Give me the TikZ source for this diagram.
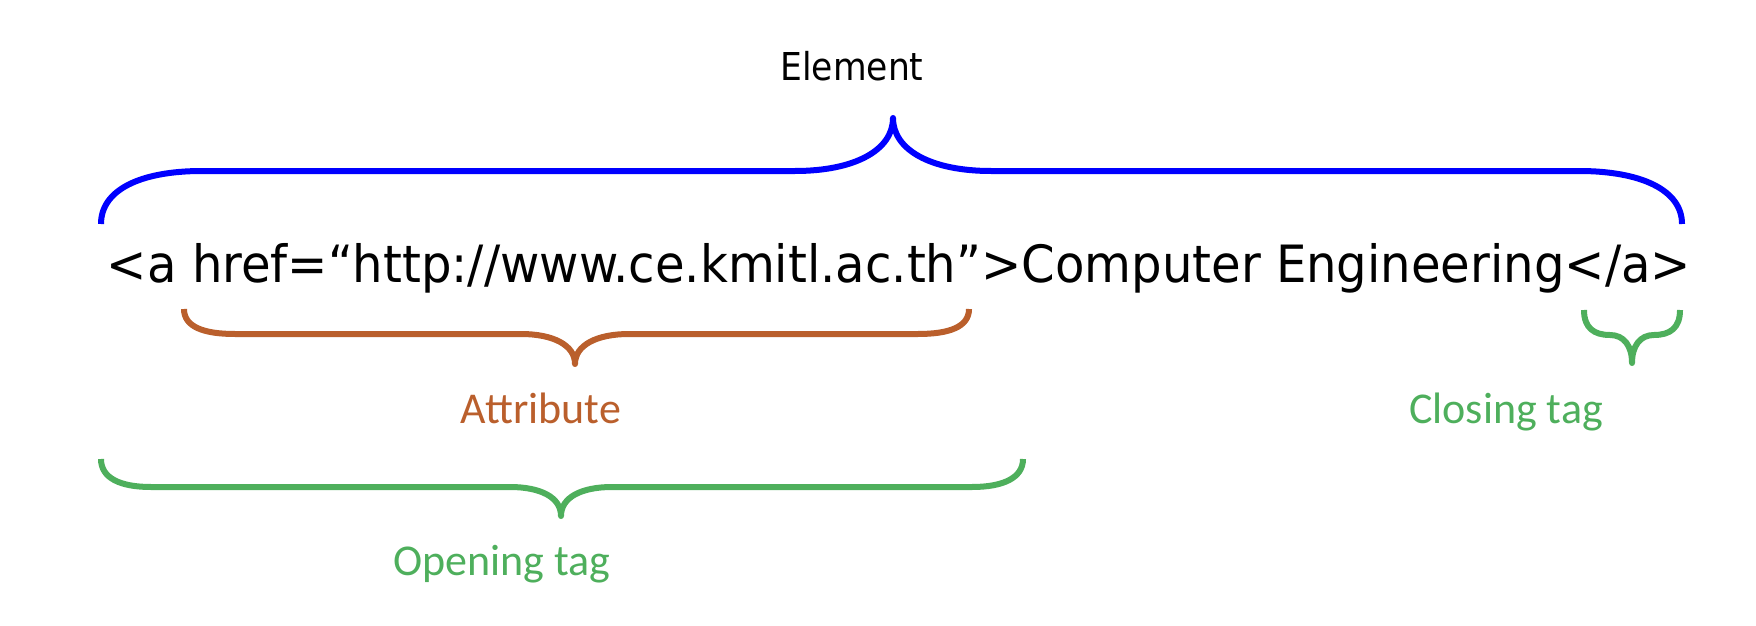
\documentclass[tikz,border=0pt]{standalone}
\usepackage{fontspec}
\setmainfont{Carlito}
\newfontfamily\codefont{DejaVu Sans Condensed}
\definecolor{elemblue}{HTML}{0000FF}
\definecolor{attrbrown}{HTML}{BA5F2C}
\definecolor{taggreen}{HTML}{4EAF5C}
\newsavebox\mainbox
\newlength\mainwd
\AtBeginDocument{%
  \sbox\mainbox{\codefont\fontsize{25.7pt}{30pt}\selectfont <a href=“http://www.ce.kmitl.ac.th”>Computer Engineering</a>}%
  \setlength\mainwd{\wd\mainbox}%
}
\tikzset{
  bracestroke/.style={line width=3pt, line cap=butt, line join=round},
  labeltext/.style={anchor=base, inner sep=0pt, font=\fontsize{22pt}{26pt}\selectfont},
}
\begin{document}
\begin{tikzpicture}[x=0.5pt, y=-0.5pt]
\useasboundingbox (0,0) rectangle (1756,626);
\pgfmathsetmacro\codescale{792/\the\mainwd}
% main code line
\node[anchor=base, inner sep=0pt] (code) at (899,282) {\scalebox{\codescale}[1]{\usebox\mainbox}};
% labels
\node[anchor=base, inner sep=0pt] (element) at (852,81) {\codefont\fontsize{19.2pt}{23pt}\selectfont Element};
\node[labeltext, text=attrbrown] (attr) at (541,423) {Attribute};
\node[labeltext, text=taggreen] (closing) at (1506,423) {Closing tag};
\node[labeltext, text=taggreen] (opening) at (502,575) {Opening tag};
% element brace
\coordinate (etip) at (893,118);
\draw[bracestroke, elemblue] (101,224) .. controls (101,190) and (140,171) .. (202,171) -- (795,171)
  .. controls (855,171) and (893,150) .. (etip)
  .. controls (893,150) and (931,171) .. (991,171) -- (1579,171)
  .. controls (1641,171) and (1682,190) .. (1682,224);
% attribute brace
\coordinate (atip) at (575,364);
\draw[bracestroke, attrbrown] (184,309) .. controls (184,327) and (204,334) .. (235,334) -- (521,334)
  .. controls (553,334) and (575,345) .. (atip)
  .. controls (575,345) and (597,334) .. (629,334) -- (918,334)
  .. controls (949,334) and (969,327) .. (969,309);
% opening tag brace
\coordinate (otip) at (561,516);
\draw[bracestroke, taggreen] (101,459) .. controls (101,478) and (120,487) .. (151,487) -- (510,487)
  .. controls (540,487) and (561,497) .. (otip)
  .. controls (561,497) and (582,487) .. (612,487) -- (972,487)
  .. controls (1003,487) and (1023,478) .. (1023,459);
% closing tag brace
\coordinate (ctip) at (1632,363);
\draw[bracestroke, taggreen] (1584,310) .. controls (1584,328) and (1594,335) .. (1610,335)
  .. controls (1624,335) and (1632,346) .. (ctip)
  .. controls (1632,346) and (1640,335) .. (1654,335)
  .. controls (1670,335) and (1680,328) .. (1680,310);
\end{tikzpicture}
\end{document}
